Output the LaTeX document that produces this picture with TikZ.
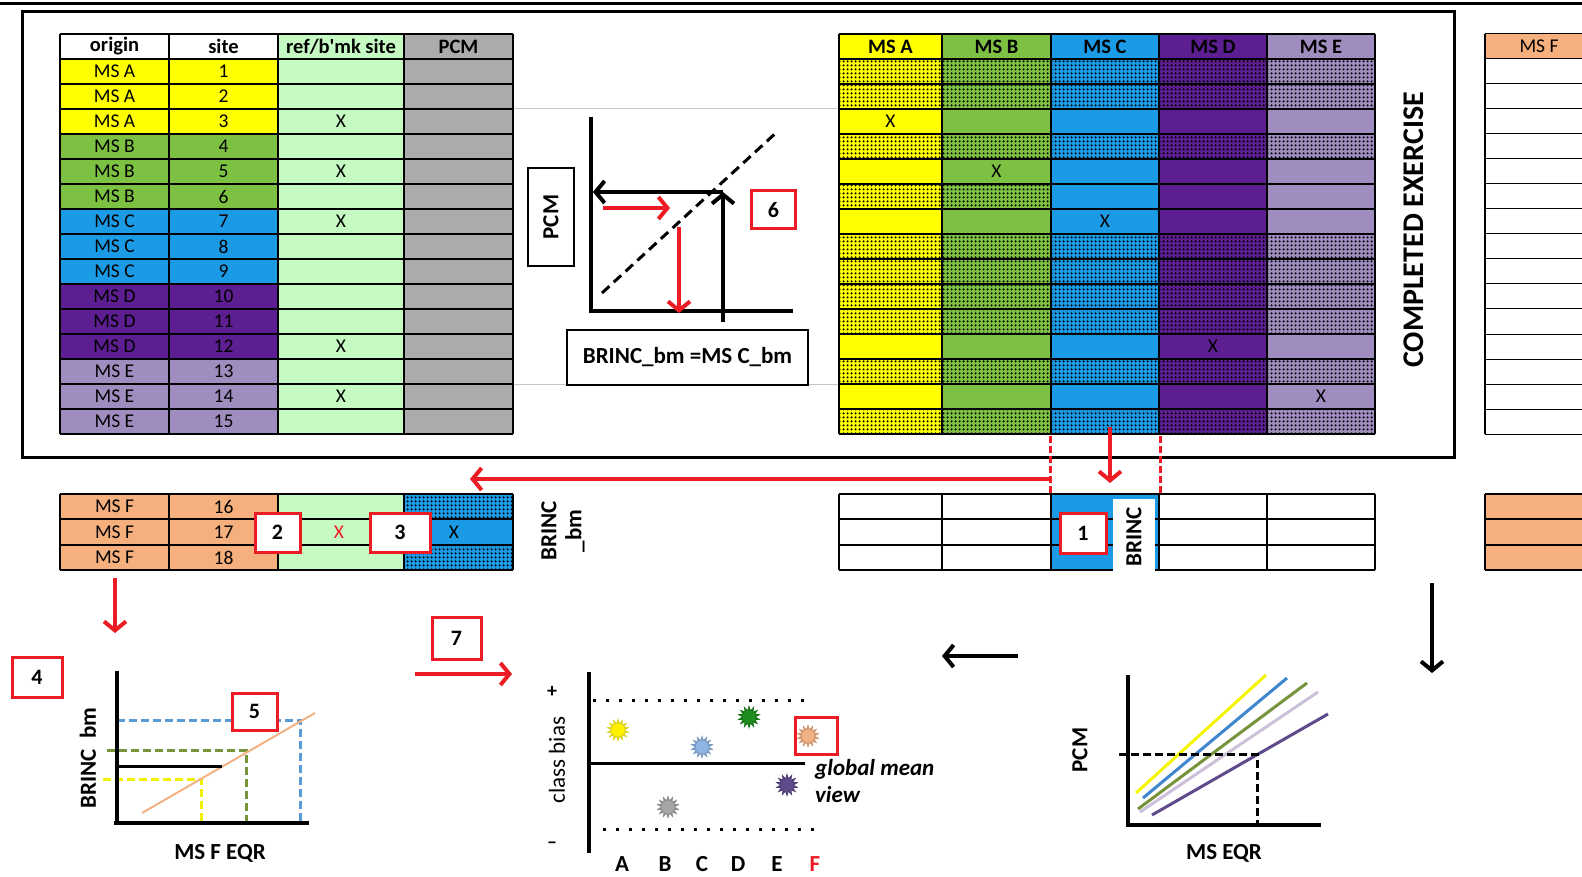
\documentclass[tikz,border=0pt]{standalone}
\usepackage{fontspec}
\setmainfont{Carlito}
\usetikzlibrary{arrows.meta,patterns.meta,shapes.geometric}
\definecolor{msA}{HTML}{FFFF00}
\definecolor{msB}{HTML}{7DC142}
\definecolor{msC}{HTML}{1B9BE6}
\definecolor{msD}{HTML}{5C1E90}
\definecolor{msE}{HTML}{A08DBF}
\definecolor{msF}{HTML}{F5B07E}
\definecolor{refg}{HTML}{C6FAC3}
\definecolor{pcmg}{HTML}{ABABAB}
\definecolor{rd}{HTML}{EC1C24}
\definecolor{dblue}{HTML}{5B9BD5}
\definecolor{dgreen}{HTML}{77933C}
\definecolor{dyellow}{HTML}{F0F000}
\definecolor{orline}{HTML}{F4B183}
\definecolor{lnyellow}{HTML}{F5F500}
\definecolor{lnblue}{HTML}{3F86D0}
\definecolor{lngreen}{HTML}{77933C}
\definecolor{lnlav}{HTML}{CCC0DA}
\definecolor{lnpurp}{HTML}{5F4B8B}
\definecolor{sungray}{HTML}{A6A6A6}
\definecolor{sunblue}{HTML}{8DB4E2}
\definecolor{sungreen}{HTML}{1E8C1E}
\definecolor{sunpurp}{HTML}{5F4B8B}
\definecolor{sunpeach}{HTML}{F4B183}
\begin{document}
\begin{tikzpicture}[x=1pt,y=-1pt,
  tt/.style={font=\fontsize{19.5}{19.5}\selectfont, inner sep=0pt},
  ht/.style={font=\bfseries\fontsize{20.5}{20.5}\selectfont, inner sep=0pt},
  lbl/.style={font=\bfseries\fontsize{23}{25}\selectfont, inner sep=0pt},
  numbox/.style={draw=rd, line width=3pt, fill=white, minimum width=44pt, minimum height=38pt, inner sep=0pt, font=\bfseries\fontsize{22}{22}\selectfont},
  tabline/.style={draw=black, line width=1.3pt},
  dotcell/.style={pattern={Dots[distance=4pt,radius=1.4pt]}, pattern color=black},
  redarrow/.style={draw=rd, line width=4pt, -{Straight Barb[length=9pt,width=22pt]}},
  blkarrow/.style={draw=black, line width=4pt, -{Straight Barb[length=9pt,width=22pt]}},
  axisline/.style={line width=4pt, draw=black},
  sun/.style={star, star points=14, star point ratio=1.7, minimum size=24pt, inner sep=0pt, draw=none},
]
\useasboundingbox (0,0) rectangle (1582,877);
\fill[white] (0,0) rectangle (1582,877);

% top rule and big frame
\draw[line width=3pt] (0,4) -- (1582,4);
\draw[line width=3pt] (22,12) rectangle (1454,457);

% gray guide lines
\draw[gray!45, line width=1pt] (513,109) -- (839,109);
\draw[gray!45, line width=1pt] (513,384) -- (839,384);

% ---------- left table ----------
\foreach \r/\c in {1/msA,2/msA,3/msA,4/msB,5/msB,6/msB,7/msC,8/msC,9/msC,10/msD,11/msD,12/msD,13/msE,14/msE,15/msE}{
  \fill[\c] (60,{34+25*\r}) rectangle (278,{59+25*\r});
}
\fill[refg] (278,34) rectangle (404,434);
\fill[pcmg] (404,34) rectangle (513,434);
\foreach \k in {0,...,16} \draw[tabline] (60,{34+25*\k}) -- (513,{34+25*\k});
\foreach \x in {60,169,278,404,513} \draw[tabline] (\x,34) -- (\x,434);
\node[ht] (hOrigin) at (114.5,46.5) {origin};
\node[ht] (hSite) at (223.5,46.5) {site};
\node[ht] (hRef) at (341,46.5) {ref/b\textquotesingle mk site};
\node[ht] (hPCM) at (458.5,46.5) {PCM};
\foreach \r/\o in {1/A,2/A,3/A,4/B,5/B,6/B,7/C,8/C,9/C,10/D,11/D,12/D,13/E,14/E,15/E}{
  \node[tt] (lo\r) at (114.5,{46.5+25*\r}) {MS \o};
  \node[tt] (ls\r) at (223.5,{46.5+25*\r}) {\r};
}
\foreach \r in {3,5,7,12,14} \node[tt] (lx\r) at (341,{46.5+25*\r}) {X};

% ---------- right grid ----------
\foreach \c/\xa/\xb/\col in {A/839/942/msA,B/942/1051/msB,C/1051/1159/msC,D/1159/1267/msD,E/1267/1375/msE}{
  \fill[\col] (\xa,34) rectangle (\xb,434);
  \node[ht] (g\c) at ({(\xa+\xb)/2},46.5) {MS \c};
}
\foreach \r in {1,2,4,8,9,10,11,13,15} \fill[dotcell] (839,{34+25*\r}) rectangle (1375,{59+25*\r});
\fill[dotcell] (839,184) rectangle (1051,209);
\foreach \k in {0,...,16} \draw[tabline] (839,{34+25*\k}) -- (1375,{34+25*\k});
\foreach \x in {839,942,1051,1159,1267,1375} \draw[tabline] (\x,34) -- (\x,434);
\node[tt] (xA) at (890.5,121.5) {X};
\node[tt] (xB) at (996.5,171.5) {X};
\node[tt] (xC) at (1105,221.5) {X};
\node[tt] (xD) at (1213,346.5) {X};
\node[tt] (xE) at (1321,396.5) {X};

\node[font=\bfseries\fontsize{30}{30}\selectfont, rotate=90, inner sep=0pt] (ce) at (1414,230) {COMPLETED EXERCISE};

% ---------- MS F table (right edge) ----------
\fill[msF] (1485,34) rectangle (1600,59);
\foreach \k in {0,...,16} \draw[line width=1pt] (1485,{34+25*\k}) -- (1600,{34+25*\k});
\draw[line width=1.3pt] (1485,34) -- (1485,434);
\node[tt] (hF) at (1539,46.5) {MS F};
\fill[msF] (1485,494) rectangle (1600,570);
\foreach \y in {494,519,545,570} \draw[line width=1.3pt] (1485,\y) -- (1600,\y);
\draw[line width=1.3pt] (1485,494) -- (1485,570);

% ---------- middle chart ----------
\draw[axisline] (591,117) -- (591,313);
\draw[axisline] (589,311) -- (793,311);
\draw[line width=3pt, dash pattern=on 10pt off 6pt] (602,293) -- (778,131);
\coordinate (bUp0) at (723,322);
\coordinate (bUp1) at (723,192);
\coordinate (bL1) at (593,192);
\draw[blkarrow] (bUp0) -- (bUp1);
\draw[blkarrow] (bUp1) -- (bL1);
\coordinate (rR0) at (603,208);
\coordinate (rR1) at (670,208);
\draw[redarrow] (rR0) -- (rR1);
\coordinate (rD0) at (679,227);
\coordinate (rD1) at (679,313);
\draw[redarrow] (rD0) -- (rD1);
\node[draw, line width=1.2pt, fill=white, minimum width=46pt, minimum height=98pt, inner sep=0pt] (pcmbox) at (551,217) {};
\node[lbl, rotate=90] (pcmtxt) at (pcmbox.center) {PCM};
\node[numbox] (n6) at (773.5,210) {6};
\node[draw, line width=1.2pt, fill=white, minimum width=241pt, minimum height=55pt, inner sep=0pt, lbl] (eqbox) at (687.5,357.5) {BRINC\_bm =MS C\_bm};

% ---------- connectors between top and bottom ----------
\draw[rd, line width=3pt, dash pattern=on 7pt off 3pt] (1050,436) -- (1050,494);
\draw[rd, line width=3pt, dash pattern=on 7pt off 3pt] (1160,436) -- (1160,494);
\coordinate (rdDown0) at (1110,427);
\coordinate (rdDown1) at (1110,483);
\draw[redarrow] (rdDown0) -- (rdDown1);
\coordinate (rdLeft0) at (1050,479);
\coordinate (rdLeft1) at (470,479);
\draw[redarrow] (rdLeft0) -- (rdLeft1);

% ---------- bottom middle table ----------
\fill[msC] (1051,494) rectangle (1159,570);
\foreach \y in {494,519,545,570} \draw[tabline] (839,\y) -- (1375,\y);
\foreach \x in {839,942,1051,1159,1267,1375} \draw[tabline] (\x,494) -- (\x,570);
\fill[white] (1113,499) rectangle (1155,572);
\node[lbl, rotate=90] (brinc) at (1134,537) {BRINC};
\node[numbox, minimum width=46pt, minimum height=40pt] (n1) at (1083,533) {1};

% ---------- bottom left table ----------
\fill[msF] (60,494) rectangle (278,570);
\fill[refg] (278,494) rectangle (404,570);
\fill[msC] (404,494) rectangle (513,570);
\fill[dotcell] (404,494) rectangle (513,519);
\fill[dotcell] (404,545) rectangle (513,570);
\foreach \y in {494,519,545,570} \draw[tabline] (60,\y) -- (513,\y);
\foreach \x in {60,169,278,404,513} \draw[tabline] (\x,494) -- (\x,570);
\foreach \r/\y in {16/506.5,17/532,18/557.5}{
  \node[tt] (fo\r) at (114.5,\y) {MS F};
  \node[tt] (fs\r) at (223.5,\y) {\r};
}
\node[tt, text=rd] (fx1) at (339,532) {X};
\node[tt] (fx2) at (454,532) {X};
\node[numbox, minimum width=45pt, minimum height=39pt] (n2) at (277.5,532.5) {2};
\node[numbox, minimum width=60pt, minimum height=39pt] (n3) at (400,532.5) {3};
\node[lbl, rotate=90, align=center] (brincbm) at (563,531) {BRINC\\\_bm};

% ---------- bottom left chart ----------
\coordinate (rdF0) at (115,578);
\coordinate (rdF1) at (115,633);
\draw[redarrow] (rdF0) -- (rdF1);
\node[numbox, minimum width=50pt, minimum height=40pt] (n4) at (37,677) {4};
\draw[dblue, line width=3pt, dash pattern=on 8pt off 4pt] (117,720) -- (300,720) -- (300,823);
\draw[dgreen, line width=3pt, dash pattern=on 8pt off 4pt] (107,750) -- (246,750) -- (246,823);
\draw[dyellow, line width=3pt, dash pattern=on 8pt off 4pt] (103,779) -- (201,779) -- (201,823);
\draw[orline, line width=2pt] (142,813) -- (315,713);
\draw[line width=3pt] (117,766) -- (222,766);
\draw[axisline] (117,671) -- (117,825);
\draw[axisline] (114,823) -- (309,823);
\node[numbox, minimum width=45pt, minimum height=37pt] (n5) at (254.5,711.5) {5};
\node[lbl, rotate=90] (ylab1) at (88,758) {BRINC~~bm};
\node[lbl] (xlab1) at (220,853) {MS F EQR};

% ---------- class bias chart ----------
\node[numbox, minimum width=49pt, minimum height=42pt] (n7) at (456.5,638) {7};
\coordinate (r70) at (415,674);
\coordinate (r71) at (512,674);
\draw[redarrow] (r70) -- (r71);
\draw[line width=3pt, dash pattern=on 3pt off 10pt] (593,700) -- (808,700);
\draw[line width=3pt, dash pattern=on 3pt off 10pt] (603,829) -- (820,829);
\draw[axisline] (589,672) -- (589,853);
\draw[line width=3pt] (589,763) -- (805,763);
\node[font=\bfseries\fontsize{20}{20}\selectfont, inner sep=0pt] (plus) at (552,692) {+};
\node[font=\bfseries\fontsize{20}{20}\selectfont, inner sep=0pt] (minus) at (552,845) {–};
\node[font=\fontsize{23}{23}\selectfont, rotate=90, inner sep=0pt] (cb) at (557,760) {class bias};
\foreach \l/\x in {A/622,B/665,C/702,D/738,E/777}{
  \node[lbl] (cl\l) at (\x,864) {\l};
}
\node[lbl, text=rd] (clF) at (815,864) {F};
\foreach \n/\x/\y/\c in {sy/618/730/yellow, sg/668/807/sungray, sb/702/747/sunblue, sgr/749/717/sungreen, sp/787/785/sunpurp, spe/808/736/sunpeach}{
  \node[sun, fill=\c!85!black] (\n) at (\x,\y) {};
  \fill[\c] (\x,\y) circle (6.5);
}
\node[draw=rd, line width=3pt, minimum width=42pt, minimum height=37pt, inner sep=0pt] (peachbox) at (816,735.5) {};
\node[font=\bfseries\itshape\fontsize{23}{27}\selectfont, align=left, anchor=north west, inner sep=0pt] (gmv) at (815,759) {global mean\\view};

% ---------- arrows to bottom right ----------
\coordinate (bk0) at (1018,656);
\coordinate (bk1) at (942,656);
\draw[blkarrow] (bk0) -- (bk1);
\coordinate (bd0) at (1432,583);
\coordinate (bd1) at (1432,673);
\draw[blkarrow] (bd0) -- (bd1);

% ---------- bottom right chart ----------
\draw[lnyellow, line width=3pt] (1136,793) -- (1266,675);
\draw[lnblue, line width=3pt] (1143,798) -- (1287,678);
\draw[lngreen, line width=3pt] (1138,809) -- (1307,683);
\draw[lnlav, line width=3pt] (1140,812) -- (1318,692);
\draw[lnpurp, line width=3pt] (1152,815) -- (1328,714);
\draw[line width=3pt, dash pattern=on 8pt off 4pt] (1119,754) -- (1257,754) -- (1257,825);
\draw[axisline] (1128,675) -- (1128,827);
\draw[axisline] (1126,825) -- (1321,825);
\node[lbl, rotate=90] (ylab3) at (1080,750) {PCM};
\node[lbl] (xlab3) at (1224,853) {MS EQR};
\end{tikzpicture}
\end{document}
